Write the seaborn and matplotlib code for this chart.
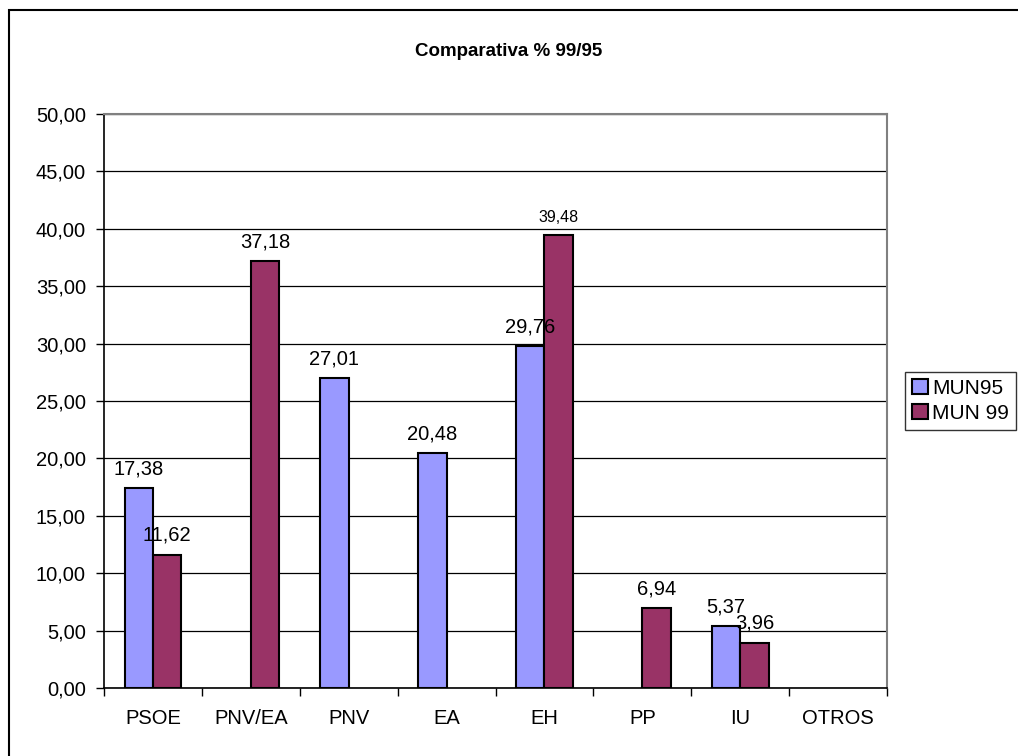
import matplotlib
matplotlib.use("Agg")
import matplotlib.pyplot as plt
from matplotlib.patches import Rectangle
import seaborn as sns
import numpy as np
import pandas as pd

# values
partidos = ["PSOE", "PNV/EA", "PNV", "EA", "EH", "PP", "IU", "OTROS"]
mun95 = [17.38, np.nan, 27.01, 20.48, 29.76, np.nan, 5.37, np.nan]
mun99 = [11.62, 37.18, np.nan, np.nan, 39.48, 6.94, 3.96, np.nan]
series = ["MUN95", "MUN 99"]
colores = ["#9999FF", "#993366"]
y_ticks = [0, 5, 10, 15, 20, 25, 30, 35, 40, 45, 50]

df = pd.DataFrame({
    "partido": partidos * 2,
    "valor": mun95 + mun99,
    "serie": [series[0]] * len(partidos) + [series[1]] * len(partidos),
})

sns.set_style("white")
plt.rcParams["font.family"] = ["Liberation Sans", "DejaVu Sans"]
plt.rcParams["text.color"] = "black"
plt.rcParams["xtick.color"] = "black"
plt.rcParams["ytick.color"] = "black"
plt.rcParams["axes.labelcolor"] = "black"

fig = plt.figure(figsize=(10.18, 7.56), dpi=100)
ax = fig.add_axes([104 / 1018, 1 - 688 / 756, (887 - 104) / 1018, (688 - 114) / 756])

sns.barplot(data=df, x="partido", y="valor", hue="serie", order=partidos,
            hue_order=series, palette=colores, width=0.58, saturation=1,
            edgecolor="black", linewidth=1.5, errorbar=None, ax=ax)

ax.set_ylim(0, 50)
ax.set_xlim(-0.5, len(partidos) - 0.5)
ax.set_yticks(y_ticks)
ax.set_yticklabels([f"{v:.2f}".replace(".", ",") for v in y_ticks], fontsize=14.5)
ax.set_xticks(range(len(partidos)))
ax.set_xticklabels(partidos, fontsize=14.5)
ax.set_xticks(np.arange(-0.5, len(partidos), 1), minor=True)
ax.tick_params(axis="x", which="major", length=0, pad=15)
ax.tick_params(axis="x", which="minor", length=6, width=1, color="black", bottom=True)
ax.tick_params(axis="y", length=6, width=1, color="black", pad=7, left=True)
ax.set_xlabel("")
ax.set_ylabel("")
ax.yaxis.grid(True, color="black", linewidth=0.9)
ax.set_axisbelow(True)
for s in ["left", "bottom"]:
    ax.spines[s].set_color("black")
    ax.spines[s].set_linewidth(1.2)
for s in ["top", "right"]:
    ax.spines[s].set_color("#808080")
    ax.spines[s].set_linewidth(1.5)

for cont in ax.containers:
    textos = ax.bar_label(cont, fmt=lambda v: "" if np.isnan(v) else f"{v:.2f}".replace(".", ","),
                          padding=7, fontsize=14.5, color="black")
    for t in textos:
        if t.get_text() == "39,48":
            t.set_fontsize(11.5)

handles, labels = ax.get_legend_handles_labels()
if ax.get_legend() is not None:
    ax.get_legend().remove()
leg = fig.legend(handles, labels, loc="center left", bbox_to_anchor=(905 / 1018, 1 - 401 / 756),
                 fontsize=15, frameon=True, fancybox=False, edgecolor="black",
                 handlelength=0.75, handleheight=0.75, handletextpad=0.2,
                 borderpad=0.35, labelspacing=0.3, borderaxespad=0)
leg.get_frame().set_linewidth(1.0)

fig.text(0.5, 1 - 52 / 756, "Comparativa % 99/95", ha="center", va="center",
         fontsize=13.5, fontweight="bold", color="black")

fig.patches.append(Rectangle((9 / 1018, -0.05), 1.1, 1 - 10 / 756 + 0.05,
                             transform=fig.transFigure, fill=False,
                             edgecolor="black", linewidth=1.5))

fig.savefig("out.png", dpi=100)
